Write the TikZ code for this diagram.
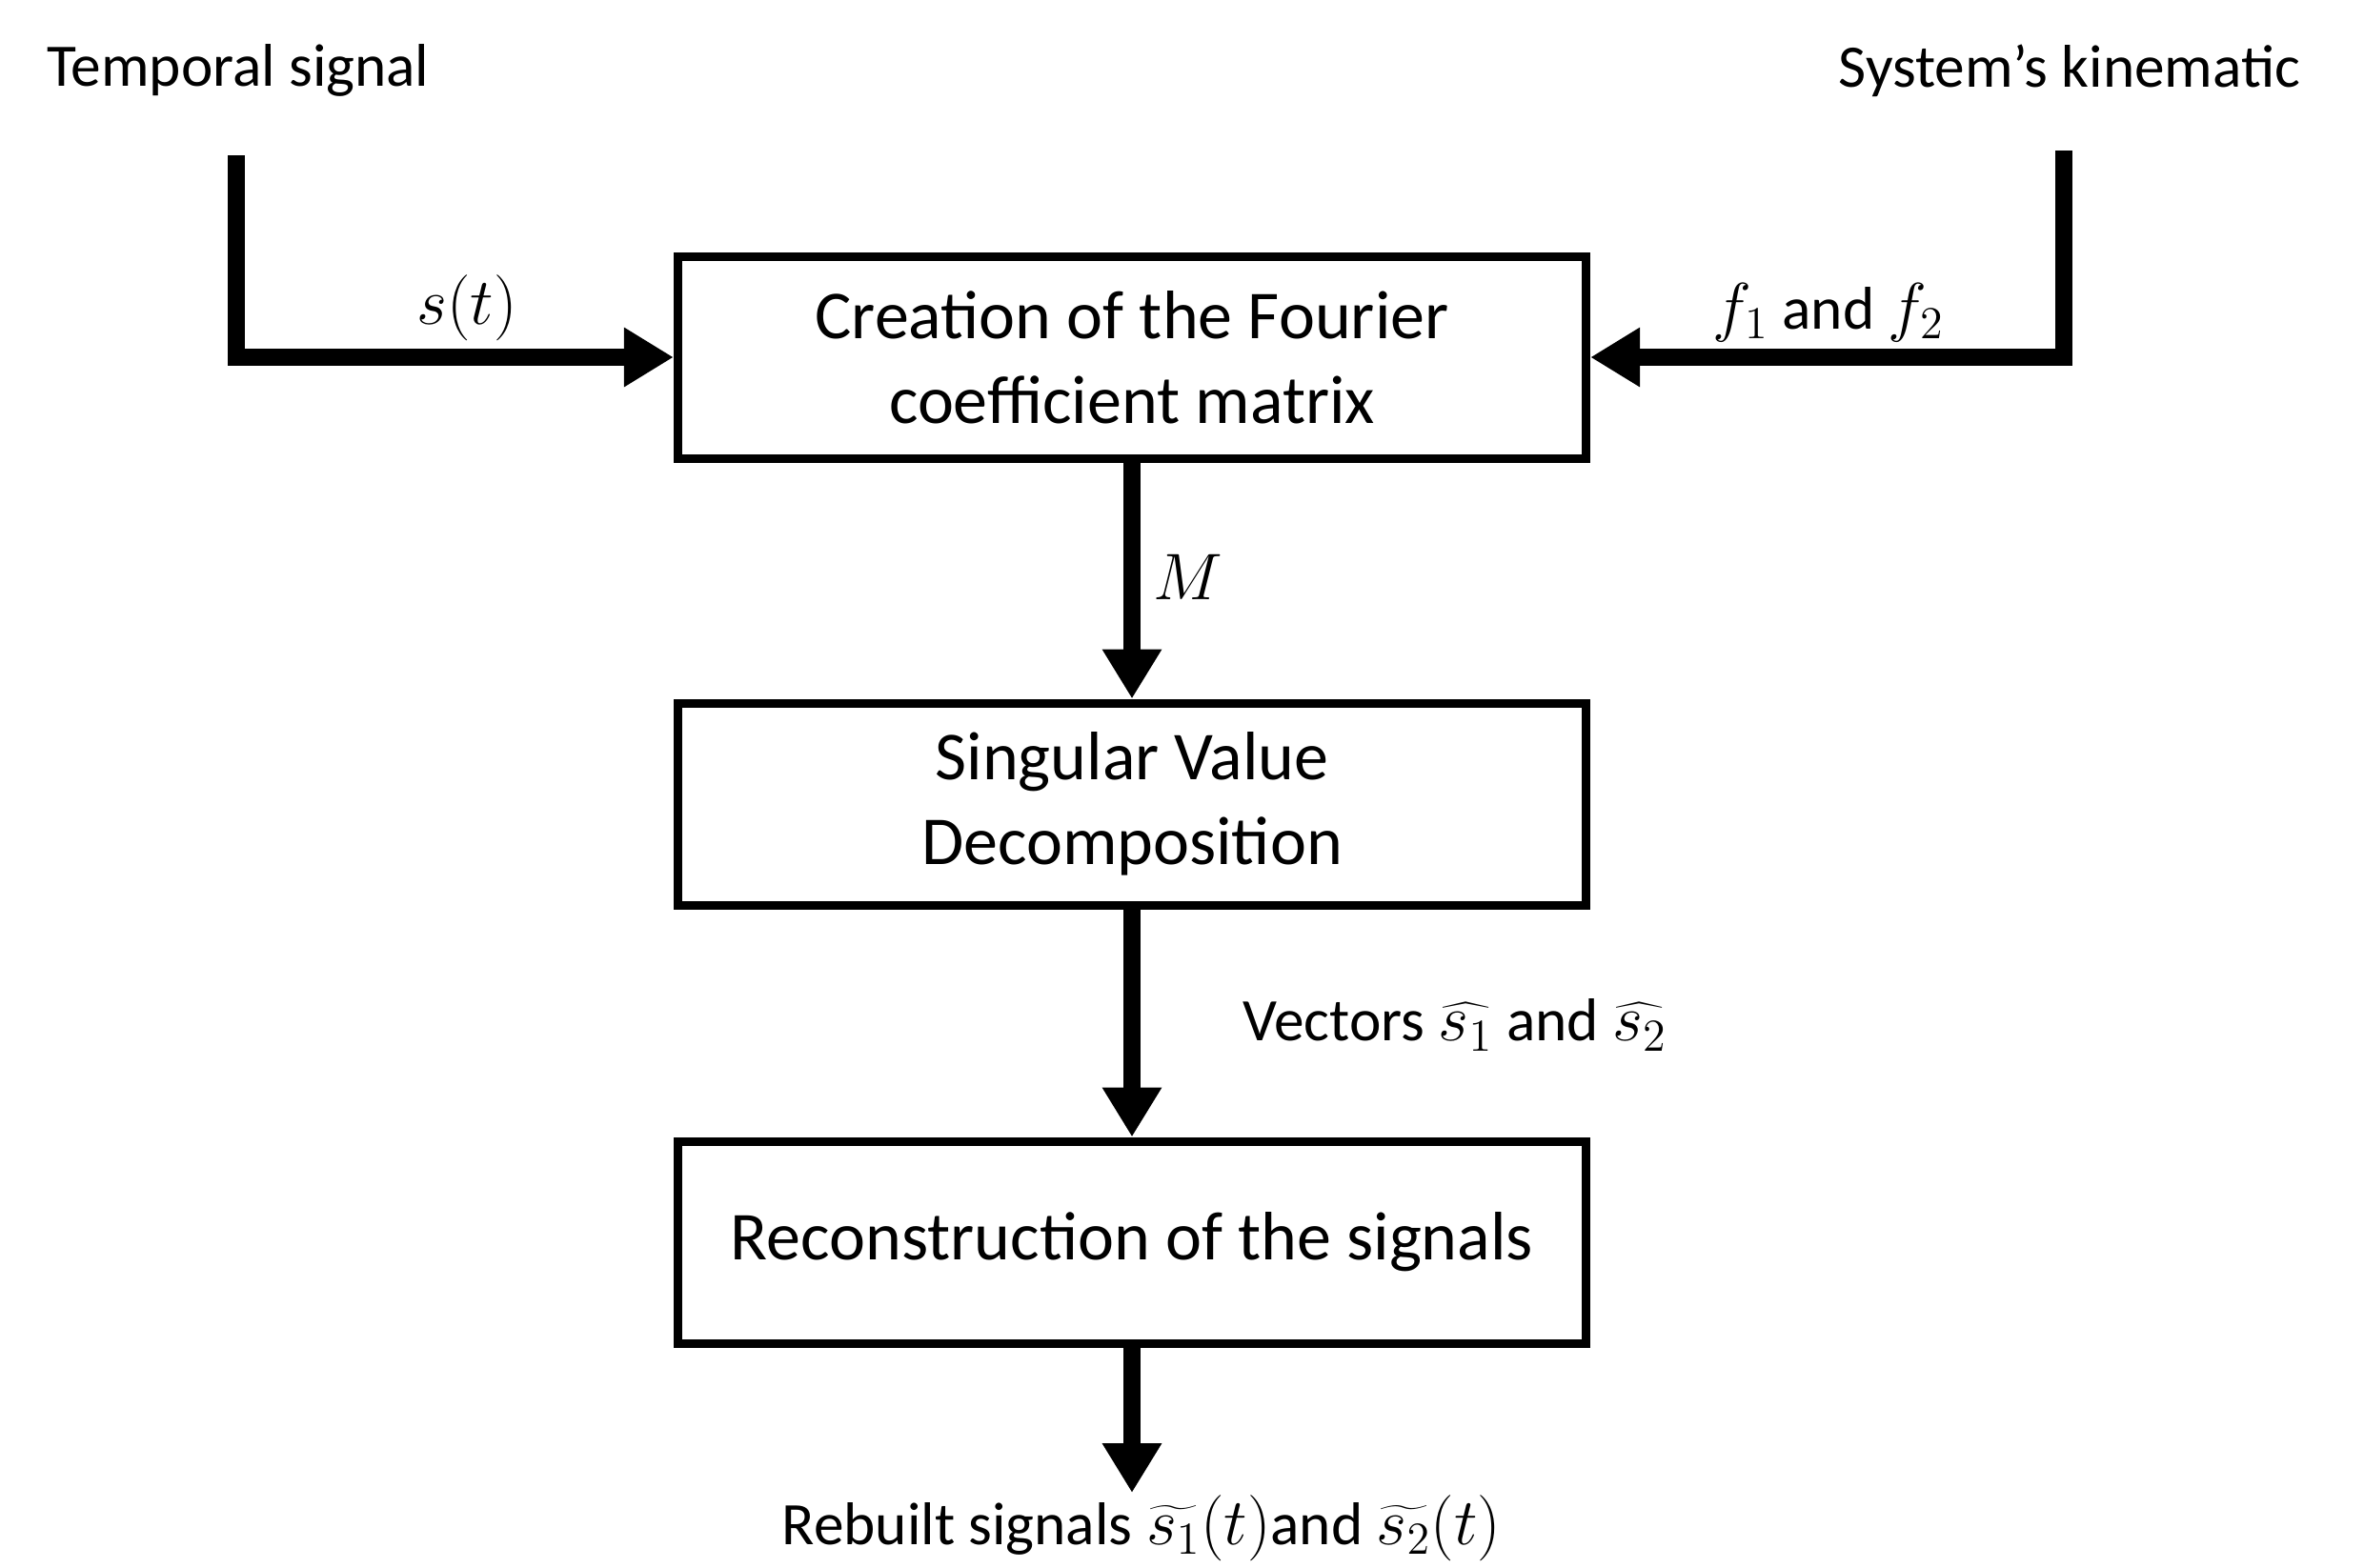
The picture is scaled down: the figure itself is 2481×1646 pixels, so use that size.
\documentclass[tikz,border=0pt]{standalone}
\usepackage{fontspec}
\setmainfont{Carlito}
\usetikzlibrary{arrows.meta}
\newcommand\mth[1]{{\fontsize{21.5}{25}\selectfont$#1$}}
\begin{document}
\begin{tikzpicture}[x=0.3pt,y=-0.3pt,
  box/.style={draw, line width=2.7pt, minimum width=286pt, minimum height=63.6pt, align=center,
    font=\fontsize{21.6}{26.6}\selectfont, inner sep=0pt},
  lbl/.style={font=\fontsize{19}{23}\selectfont, inner sep=0pt},
  conn/.style={line width=5.4pt, -{Triangle[length=15.6pt,width=17.7pt]}}]
\useasboundingbox (0,0) rectangle (2481,1646);
\node[box] (b1) at (1188,375) {Creation of the Fourier\\coefficient matrix};
\node[box] (b2) at (1188,844) {Singular Value\\Decomposition};
\node[box] (b3) at (1188,1304) {Reconstruction of the signals};
\coordinate (ls) at (248,163);
\coordinate (rs) at (2166,158);
\coordinate (out) at (1188,1567);
\node[lbl] (tl) at (250,74) {Temporal signal};
\node[lbl] (sl) at (2172,74) {System’s kinematic};
\draw[conn] (ls) |- (b1.west);
\draw[conn] (rs) |- (b1.east);
\draw[conn] (b1.south) -- (b2.north);
\draw[conn] (b2.south) -- (b3.north);
\draw[conn] (b3.south) -- (out);
\node[lbl] (st) at (490,323) {\mth{s(t)}};
\node[lbl] (ff) at (1919,328) {\mth{f_1} and \mth{f_2}};
\node[lbl] (m) at (1247,606) {\mth{M}};
\node[lbl] (vec) at (1527,1076) {Vectors \mth{\widehat{s_1}} and \mth{\widehat{s_2}}};
\node[lbl] (reb) at (1198,1604) {Rebuilt signals \mth{\widetilde{s_1}(t)}and \mth{\widetilde{s_2}(t)}};
\end{tikzpicture}
\end{document}
